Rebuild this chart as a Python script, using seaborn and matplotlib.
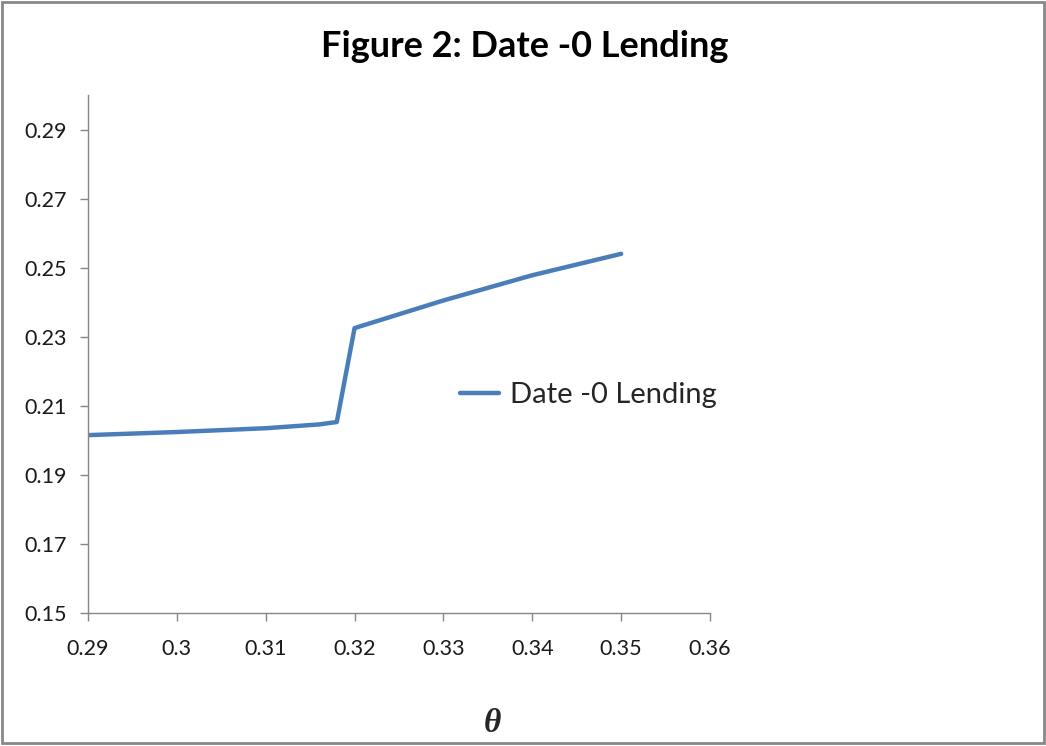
import seaborn as sns
import matplotlib.pyplot as plt
import pandas as pd
from matplotlib.patches import Rectangle

# values
theta = [0.29, 0.30, 0.31, 0.316, 0.318, 0.32, 0.33, 0.34, 0.35]
lending = [0.2015, 0.2024, 0.2035, 0.2046, 0.2053, 0.2325, 0.2405, 0.2478, 0.2540]
xticks = [0.29, 0.30, 0.31, 0.32, 0.33, 0.34, 0.35, 0.36]
xtick_labels = ['0.29', '0.3', '0.31', '0.32', '0.33', '0.34', '0.35', '0.36']
yticks = [0.15, 0.17, 0.19, 0.21, 0.23, 0.25, 0.27, 0.29]
series_name = 'Date -0 Lending'

df = pd.DataFrame({'theta': theta, 'lending': lending})

sns.set_style('white')
plt.rcParams['font.family'] = ['Lato', 'DejaVu Sans']

fig = plt.figure(figsize=(10.46, 7.46), dpi=100)
ax = fig.add_axes([0.0841, 0.1783, 0.5947, 0.6944])

sns.lineplot(data=df, x='theta', y='lending', ax=ax, color='#4a7ebb',
             linewidth=3.2, label=series_name)

ax.set_xlim(0.29, 0.36)
ax.set_ylim(0.15, 0.30)
ax.set_xticks(xticks)
ax.set_xticklabels(xtick_labels)
ax.set_yticks(yticks)
ax.set_yticklabels(['%.2f' % v for v in yticks])
ax.tick_params(axis='both', which='both', direction='out', length=5.5, width=1,
               color='#868686', labelsize=15.5, labelcolor='#1a1a1a',
               bottom=True, left=True)
ax.tick_params(axis='x', pad=13)
ax.tick_params(axis='y', pad=10)
for s in ['top', 'right']:
    ax.spines[s].set_visible(False)
for s in ['left', 'bottom']:
    ax.spines[s].set_color('#868686')
    ax.spines[s].set_linewidth(1)
ax.set_xlabel('')
ax.set_ylabel('')

leg = ax.legend(loc='center left', bbox_to_anchor=(0.598, 0.421), frameon=False,
                fontsize=21, handlelength=1.35, handletextpad=0.35,
                borderpad=0, borderaxespad=0)

fig.text(0.502, 0.938, 'Figure 2: Date -0 Lending', ha='center', va='center',
         fontsize=26, fontweight='bold', color='black')
fig.text(0.471, 0.03, 'θ', ha='center', va='center',
         fontsize=24, fontfamily='Liberation Serif', fontstyle='italic', fontweight='bold')

fig.patches.append(Rectangle((0.002, 0.004), 0.996, 0.993, transform=fig.transFigure,
                             fill=False, edgecolor='#888888', linewidth=2))

fig.savefig('out.png', dpi=100)
